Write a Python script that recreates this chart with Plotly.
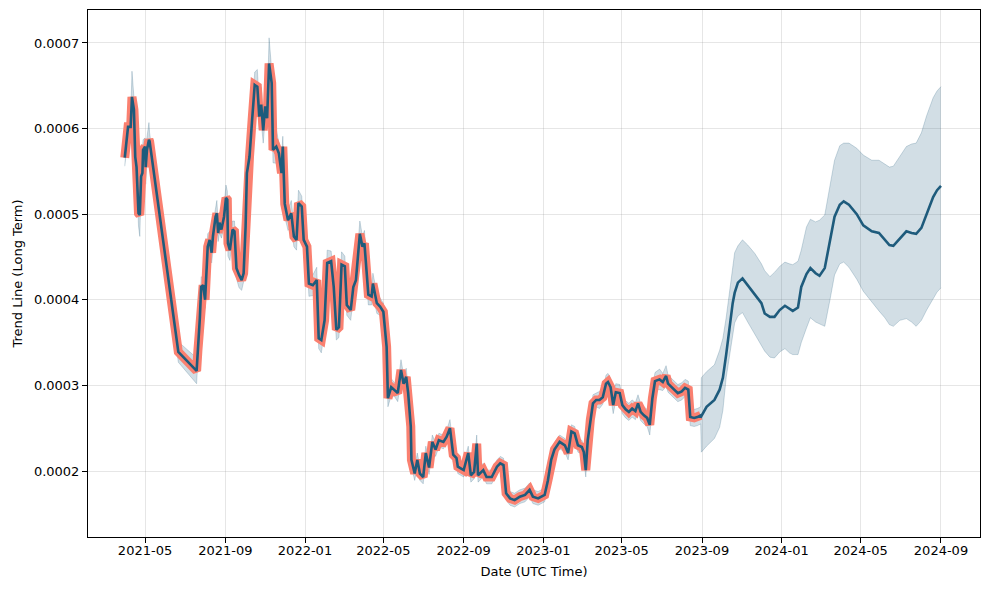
import plotly.graph_objects as go

# ---------------- history (actual / fitted) ----------------
hist_dates = [
    "2021-03-31", "2021-04-05", "2021-04-09", "2021-04-11", "2021-04-14", "2021-04-16", "2021-04-18",
    "2021-04-21", "2021-04-23", "2021-04-25", "2021-04-27", "2021-04-28", "2021-05-01", "2021-05-02",
    "2021-05-04", "2021-05-07", "2021-05-08", "2021-06-21", "2021-07-19", "2021-07-21", "2021-07-24",
    "2021-07-26", "2021-07-29", "2021-08-01", "2021-08-03", "2021-08-05", "2021-08-08", "2021-08-11",
    "2021-08-13", "2021-08-17", "2021-08-19", "2021-08-21", "2021-08-23", "2021-08-26", "2021-08-30",
    "2021-09-02", "2021-09-04", "2021-09-05", "2021-09-08", "2021-09-12", "2021-09-15", "2021-09-18",
    "2021-09-22", "2021-09-26", "2021-09-29", "2021-10-02", "2021-10-04", "2021-10-08", "2021-10-12",
    "2021-10-16", "2021-10-20", "2021-10-23", "2021-10-26", "2021-10-29", "2021-11-01", "2021-11-04",
    "2021-11-07", "2021-11-11", "2021-11-13", "2021-11-18", "2021-11-22", "2021-11-26", "2021-11-28",
    "2021-12-01", "2021-12-06", "2021-12-11", "2021-12-15", "2021-12-19", "2021-12-22", "2021-12-27",
    "2021-12-30", "2022-01-04", "2022-01-07", "2022-01-13", "2022-01-19", "2022-01-22", "2022-01-26",
    "2022-01-31", "2022-02-04", "2022-02-10", "2022-02-14", "2022-02-18", "2022-02-22", "2022-02-26",
    "2022-03-03", "2022-03-06", "2022-03-12", "2022-03-16", "2022-03-20", "2022-03-23", "2022-03-26",
    "2022-03-30", "2022-04-02", "2022-04-08", "2022-04-13", "2022-04-15", "2022-04-21", "2022-04-26",
    "2022-05-01", "2022-05-06", "2022-05-08", "2022-05-13", "2022-05-18", "2022-05-23", "2022-05-28",
    "2022-06-01", "2022-06-05", "2022-06-08", "2022-06-12", "2022-06-13", "2022-06-18", "2022-06-22",
    "2022-06-26", "2022-07-01", "2022-07-05", "2022-07-10", "2022-07-15", "2022-07-20", "2022-07-25",
    "2022-08-01", "2022-08-06", "2022-08-11", "2022-08-16", "2022-08-21", "2022-08-23", "2022-09-01",
    "2022-09-08", "2022-09-12", "2022-09-17", "2022-09-21", "2022-09-23", "2022-10-01", "2022-10-06",
    "2022-10-14", "2022-10-22", "2022-10-27", "2022-11-01", "2022-11-05", "2022-11-11", "2022-11-18",
    "2022-11-26", "2022-12-04", "2022-12-11", "2022-12-16", "2022-12-24", "2023-01-03", "2023-01-08",
    "2023-01-13", "2023-01-18", "2023-01-26", "2023-02-03", "2023-02-08", "2023-02-13", "2023-02-18",
    "2023-02-23", "2023-03-01", "2023-03-04", "2023-03-07", "2023-03-10", "2023-03-14", "2023-03-18",
    "2023-03-23", "2023-03-28", "2023-04-02", "2023-04-07", "2023-04-10", "2023-04-14", "2023-04-18",
    "2023-04-22", "2023-04-28", "2023-05-02", "2023-05-07", "2023-05-12", "2023-05-17", "2023-05-22",
    "2023-05-26", "2023-05-30", "2023-06-04", "2023-06-09", "2023-06-13", "2023-06-17", "2023-06-21",
    "2023-06-28", "2023-07-03", "2023-07-08", "2023-07-11", "2023-07-16", "2023-07-21", "2023-07-26",
    "2023-08-01", "2023-08-06", "2023-08-11", "2023-08-14", "2023-08-20", "2023-08-25", "2023-08-30",
]

hist_values = [
    0.000566, 0.000602, 0.000602, 0.000637, 0.000622, 0.000567, 0.000555,
    0.000501, 0.000499, 0.000544, 0.000548, 0.000575, 0.000579, 0.000555,
    0.000575, 0.000587, 0.000585, 0.000339, 0.000317, 0.000341, 0.000379,
    0.000415, 0.000417, 0.000400, 0.000443, 0.000462, 0.000470, 0.000455,
    0.000474, 0.000497, 0.000501, 0.000478, 0.000490, 0.000482, 0.000497,
    0.000519, 0.000517, 0.000466, 0.000458, 0.000482, 0.000480, 0.000437,
    0.000429, 0.000423, 0.000431, 0.000485, 0.000548, 0.000567, 0.000610,
    0.000651, 0.000649, 0.000614, 0.000628, 0.000598, 0.000626, 0.000612,
    0.000676, 0.000653, 0.000575, 0.000579, 0.000571, 0.000548, 0.000579,
    0.000512, 0.000493, 0.000501, 0.000474, 0.000470, 0.000513, 0.000509,
    0.000470, 0.000462, 0.000419, 0.000417, 0.000423, 0.000355, 0.000353,
    0.000376, 0.000443, 0.000445, 0.000415, 0.000365, 0.000368, 0.000441,
    0.000439, 0.000394, 0.000388, 0.000415, 0.000423, 0.000454, 0.000477,
    0.000462, 0.000466, 0.000406, 0.000404, 0.000419, 0.000396, 0.000392,
    0.000386, 0.000345, 0.000285, 0.000298, 0.000295, 0.000291, 0.000318,
    0.000302, 0.000310, 0.000291, 0.000252, 0.000213, 0.000197, 0.000213,
    0.000197, 0.000193, 0.000221, 0.000204, 0.000234, 0.000225, 0.000236,
    0.000234, 0.000240, 0.000250, 0.000219, 0.000215, 0.000205, 0.000201,
    0.000221, 0.000195, 0.000199, 0.000232, 0.000195, 0.000201, 0.000193,
    0.000193, 0.000205, 0.000209, 0.000207, 0.000174, 0.000168, 0.000166,
    0.000170, 0.000172, 0.000178, 0.000170, 0.000168, 0.000172, 0.000189,
    0.000213, 0.000225, 0.000234, 0.000230, 0.000221, 0.000246, 0.000244,
    0.000230, 0.000228, 0.000222, 0.000201, 0.000236, 0.000260, 0.000279,
    0.000283, 0.000283, 0.000286, 0.000302, 0.000304, 0.000298, 0.000277,
    0.000292, 0.000291, 0.000277, 0.000272, 0.000269, 0.000273, 0.000270,
    0.000279, 0.000269, 0.000265, 0.000262, 0.000254, 0.000285, 0.000305,
    0.000307, 0.000304, 0.000311, 0.000302, 0.000298, 0.000295, 0.000291,
    0.000293, 0.000297, 0.000295, 0.000263, 0.000262, 0.000263, 0.000265,
]

# half-width of the uncertainty band over the history period
hist_spread = [
    0.000010, 0.000012, 0.000010, 0.000030, 0.000015, 0.000012, 0.000010,
    0.000015, 0.000025, 0.000010, 0.000020, 0.000012, 0.000010, 0.000020,
    0.000015, 0.000020, 0.000010, 0.000012, 0.000015, 0.000010, 0.000012,
    0.000012, 0.000008, 0.000010, 0.000010, 0.000015, 0.000010, 0.000012,
    0.000015, 0.000012, 0.000015, 0.000010, 0.000012, 0.000010, 0.000012,
    0.000015, 0.000010, 0.000015, 0.000012, 0.000010, 0.000012, 0.000012,
    0.000015, 0.000012, 0.000010, 0.000012, 0.000015, 0.000012, 0.000015,
    0.000015, 0.000020, 0.000015, 0.000020, 0.000015, 0.000015, 0.000012,
    0.000030, 0.000015, 0.000015, 0.000020, 0.000012, 0.000015, 0.000012,
    0.000015, 0.000012, 0.000015, 0.000012, 0.000012, 0.000015, 0.000012,
    0.000012, 0.000012, 0.000015, 0.000012, 0.000015, 0.000012, 0.000015,
    0.000012, 0.000015, 0.000012, 0.000012, 0.000012, 0.000012, 0.000015,
    0.000012, 0.000012, 0.000012, 0.000012, 0.000012, 0.000012, 0.000015,
    0.000012, 0.000015, 0.000012, 0.000010, 0.000012, 0.000012, 0.000010,
    0.000010, 0.000010, 0.000010, 0.000010, 0.000008, 0.000010, 0.000012,
    0.000010, 0.000010, 0.000008, 0.000008, 0.000008, 0.000008, 0.000008,
    0.000008, 0.000008, 0.000008, 0.000008, 0.000008, 0.000008, 0.000008,
    0.000008, 0.000008, 0.000010, 0.000008, 0.000008, 0.000008, 0.000008,
    0.000008, 0.000008, 0.000008, 0.000010, 0.000008, 0.000008, 0.000008,
    0.000008, 0.000008, 0.000008, 0.000008, 0.000008, 0.000008, 0.000008,
    0.000008, 0.000008, 0.000008, 0.000008, 0.000008, 0.000008, 0.000008,
    0.000008, 0.000008, 0.000008, 0.000008, 0.000008, 0.000008, 0.000008,
    0.000008, 0.000008, 0.000008, 0.000008, 0.000008, 0.000008, 0.000010,
    0.000008, 0.000010, 0.000008, 0.000010, 0.000010, 0.000010, 0.000010,
    0.000010, 0.000010, 0.000010, 0.000010, 0.000010, 0.000010, 0.000010,
    0.000010, 0.000010, 0.000010, 0.000010, 0.000012, 0.000010, 0.000010,
    0.000012, 0.000010, 0.000012, 0.000010, 0.000010, 0.000010, 0.000010,
    0.000010, 0.000010, 0.000010, 0.000010, 0.000010, 0.000010, 0.000010,
]

# ---------------- forecast ----------------
fc_dates = [
    "2023-08-31", "2023-09-08", "2023-09-20", "2023-09-28", "2023-10-03", "2023-10-08", "2023-10-13",
    "2023-10-18", "2023-10-21", "2023-10-26", "2023-11-02", "2023-11-10", "2023-11-21", "2023-12-01",
    "2023-12-06", "2023-12-14", "2023-12-21", "2023-12-29", "2024-01-06", "2024-01-13", "2024-01-18",
    "2024-01-26", "2024-01-31", "2024-02-08", "2024-02-14", "2024-02-22", "2024-02-28", "2024-03-07",
    "2024-03-15", "2024-03-22", "2024-03-30", "2024-04-05", "2024-04-13", "2024-04-25", "2024-05-05",
    "2024-05-18", "2024-05-29", "2024-06-07", "2024-06-14", "2024-06-20", "2024-06-30", "2024-07-10",
    "2024-07-18", "2024-07-25", "2024-08-02", "2024-08-10", "2024-08-20", "2024-08-26", "2024-09-01",
]
fc_values = [
    0.000264, 0.000275, 0.000283, 0.000295, 0.000309, 0.000336, 0.000368,
    0.000396, 0.000408, 0.000420, 0.000425, 0.000417, 0.000407, 0.000396,
    0.000384, 0.000380, 0.000380, 0.000388, 0.000393, 0.000390, 0.000387,
    0.000391, 0.000415, 0.000430, 0.000437, 0.000431, 0.000428, 0.000437,
    0.000470, 0.000497, 0.000511, 0.000515, 0.000511, 0.000500, 0.000487,
    0.000480, 0.000478, 0.000470, 0.000464, 0.000463, 0.000472, 0.000480,
    0.000478, 0.000477, 0.000484, 0.000501, 0.000520, 0.000528, 0.000533,
]
fc_upper = [
    0.000309, 0.000316, 0.000324, 0.000341, 0.000355, 0.000379, 0.000409,
    0.000437, 0.000455, 0.000463, 0.000470, 0.000464, 0.000454, 0.000442,
    0.000434, 0.000427, 0.000432, 0.000439, 0.000444, 0.000442, 0.000441,
    0.000445, 0.000458, 0.000485, 0.000494, 0.000491, 0.000493, 0.000499,
    0.000532, 0.000563, 0.000580, 0.000583, 0.000583, 0.000577, 0.000569,
    0.000563, 0.000563, 0.000559, 0.000555, 0.000556, 0.000567, 0.000579,
    0.000582, 0.000583, 0.000595, 0.000615, 0.000636, 0.000644, 0.000649,
]
fc_lower = [
    0.000222, 0.000229, 0.000238, 0.000251, 0.000271, 0.000309, 0.000332,
    0.000359, 0.000373, 0.000381, 0.000385, 0.000374, 0.000360, 0.000347,
    0.000340, 0.000333, 0.000332, 0.000339, 0.000343, 0.000338, 0.000336,
    0.000336, 0.000350, 0.000367, 0.000379, 0.000374, 0.000372, 0.000369,
    0.000400, 0.000429, 0.000442, 0.000444, 0.000438, 0.000424, 0.000410,
    0.000397, 0.000387, 0.000379, 0.000371, 0.000369, 0.000376, 0.000378,
    0.000374, 0.000369, 0.000376, 0.000388, 0.000402, 0.000409, 0.000414,
]

x_ticks = ["2021-05-01", "2021-09-01", "2022-01-01", "2022-05-01", "2022-09-01",
           "2023-01-01", "2023-05-01", "2023-09-01", "2024-01-01", "2024-05-01", "2024-09-01"]
y_ticks = [0.0002, 0.0003, 0.0004, 0.0005, 0.0006, 0.0007]

LINE = "#1e5b7c"
SALMON = "#FA8070"
BAND = "rgba(30,91,124,0.2)"
BAND_EDGE = "rgba(30,91,124,0.22)"

band_dates = hist_dates + fc_dates
band_upper = [v + s for v, s in zip(hist_values, hist_spread)] + fc_upper
band_lower = [v - s for v, s in zip(hist_values, hist_spread)] + fc_lower

fig = go.Figure()
fig.add_trace(go.Scatter(x=band_dates, y=band_upper, mode="lines",
                         line=dict(color=BAND_EDGE, width=1), hoverinfo="skip", showlegend=False))
fig.add_trace(go.Scatter(x=band_dates, y=band_lower, mode="lines", fill="tonexty", fillcolor=BAND,
                         line=dict(color=BAND_EDGE, width=1), hoverinfo="skip", showlegend=False))
fig.add_trace(go.Scatter(x=hist_dates, y=hist_values, mode="lines",
                         line=dict(color=SALMON, width=9), showlegend=False))
fig.add_trace(go.Scatter(x=hist_dates + fc_dates, y=hist_values + fc_values, mode="lines",
                         line=dict(color=LINE, width=2.6), showlegend=False))

axis_common = dict(
    showline=True, linecolor="black", linewidth=1, mirror=True,
    ticks="outside", ticklen=5, tickcolor="black", tickwidth=1,
    showgrid=True, gridcolor="rgba(128,128,128,0.2)", gridwidth=1,
    zeroline=False, tickfont=dict(size=13, color="black"),
    title_font=dict(size=13, color="black"), automargin=False,
)

# the page body has an 8px default margin, so the margins below compensate for it
fig.update_layout(
    width=989, height=590,
    margin=dict(l=80, r=17, t=2, b=61),
    paper_bgcolor="white", plot_bgcolor="white",
    font=dict(family="DejaVu Sans", size=13, color="black"),
    showlegend=False,
)
fig.update_xaxes(type="date", range=["2021-02-02 16:00", "2024-10-30 18:00"],
                 tickvals=x_ticks, tickformat="%Y-%m", ticklabelstandoff=-4,
                 title_text="Date (UTC Time)", title_standoff=10, **axis_common)
fig.update_yaxes(range=[0.0001229, 0.0007385], tickvals=y_ticks, tickformat=".4f",
                 title_text="Trend Line (Long Term)", title_standoff=8, **axis_common)

fig.write_html("out.html")
